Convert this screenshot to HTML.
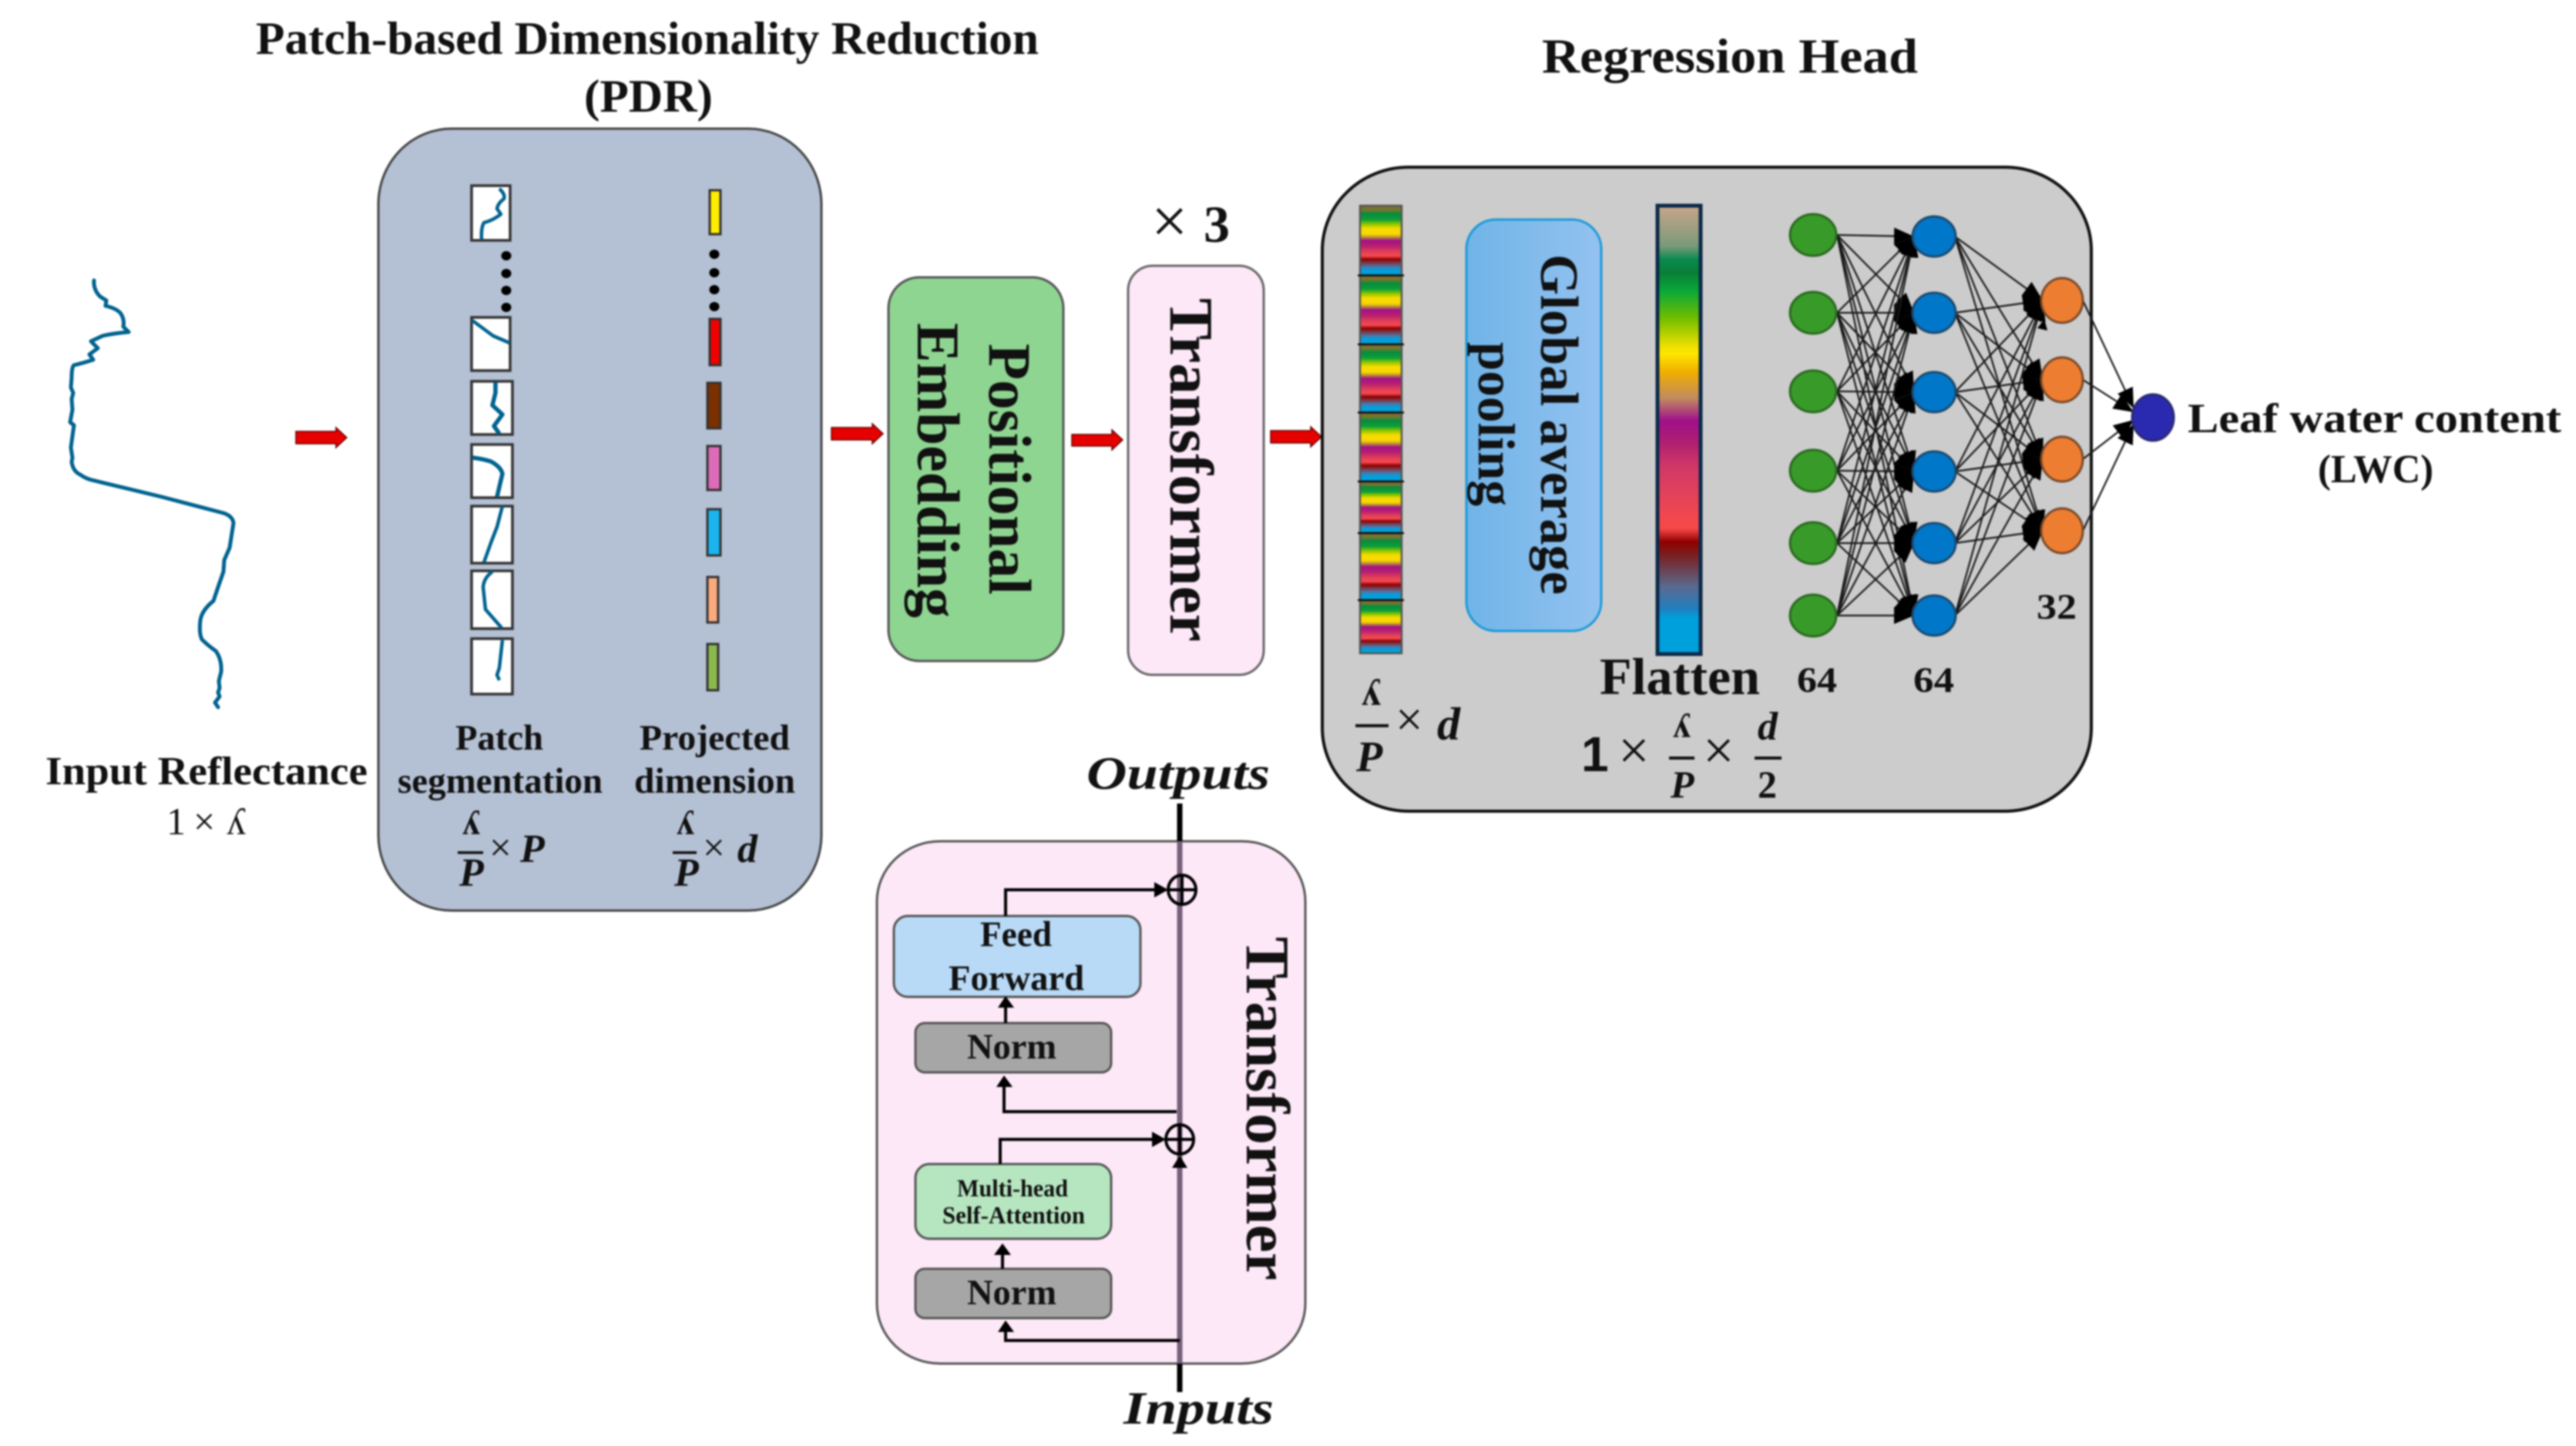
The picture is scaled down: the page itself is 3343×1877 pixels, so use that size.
<!DOCTYPE html>
<html lang="en"><head><meta charset="utf-8"><title>PDR Transformer diagram</title>
<style>
html,body{margin:0;padding:0;background:#fff}
svg{display:block;filter:blur(1.1px)}
text{font-family:"Liberation Serif","DejaVu Serif",serif;font-weight:bold;fill:#111}
.i{font-style:italic}
.r{font-weight:normal}
</style></head><body>
<svg xmlns="http://www.w3.org/2000/svg" width="3343" height="1877" viewBox="0 0 3343 1877">
<defs>
<linearGradient id="rb" x1="0" y1="0" x2="0" y2="1">
<stop offset="0" stop-color="#c9a58a"/><stop offset=".09" stop-color="#7a9a7a"/><stop offset=".12" stop-color="#0a8a4f"/><stop offset=".15" stop-color="#0a7f36"/><stop offset=".19" stop-color="#0aa83a"/><stop offset=".25" stop-color="#6fbd00"/><stop offset=".315" stop-color="#f0e000"/><stop offset=".33" stop-color="#ffe600"/><stop offset=".37" stop-color="#f0b000"/><stop offset=".43" stop-color="#c08a60"/><stop offset=".48" stop-color="#a0108a"/><stop offset=".53" stop-color="#b02070"/><stop offset=".58" stop-color="#d03868"/><stop offset=".69" stop-color="#f04850"/><stop offset=".72" stop-color="#f84848"/><stop offset=".75" stop-color="#8f0000"/><stop offset=".78" stop-color="#7a2020"/><stop offset=".85" stop-color="#5a6a90"/><stop offset=".9" stop-color="#2080c0"/><stop offset=".92" stop-color="#00a0dc"/><stop offset="1" stop-color="#00a0dc"/>
</linearGradient>
<linearGradient id="st" x1="0" y1="0" x2="0" y2="1">
<stop offset="0" stop-color="#8a6a30"/><stop offset=".07" stop-color="#6a7a30"/><stop offset=".11" stop-color="#0a8a3c"/><stop offset=".2" stop-color="#0aa03a"/><stop offset=".26" stop-color="#8ac400"/><stop offset=".33" stop-color="#f8dc00"/><stop offset=".41" stop-color="#f8d800"/><stop offset=".46" stop-color="#b08040"/><stop offset=".5" stop-color="#a5108a"/><stop offset=".58" stop-color="#b82070"/><stop offset=".66" stop-color="#e04058"/><stop offset=".72" stop-color="#f84850"/><stop offset=".77" stop-color="#8a0000"/><stop offset=".82" stop-color="#7a3a4a"/><stop offset=".88" stop-color="#4a7ab0"/><stop offset=".92" stop-color="#00a0dc"/><stop offset="1" stop-color="#00a0dc"/>
</linearGradient>
<linearGradient id="gp" x1="0" y1="0" x2="1" y2="0"><stop offset="0" stop-color="#70b4e8"/><stop offset="1" stop-color="#93c2f0"/></linearGradient>
<marker id="nn" markerUnits="userSpaceOnUse" markerWidth="28" markerHeight="24" refX="26" refY="11" orient="auto"><path d="M0,0 L26,11 L0,22 z" fill="#000"/></marker>
</defs>

<!-- Titles -->
<text x="332" y="70" font-size="60" textLength="1016" lengthAdjust="spacingAndGlyphs">Patch-based Dimensionality Reduction</text>
<text x="758" y="145" font-size="60" textLength="167" lengthAdjust="spacingAndGlyphs">(PDR)</text>
<text x="2001" y="94" font-size="64" textLength="488" lengthAdjust="spacingAndGlyphs">Regression Head</text>

<!-- Input spectrum -->
<path d="M122,364 Q121,376 130,385 L138,390 L137,397 Q150,400 156,406 Q162,414 160,424 L167,431 Q145,433 133,436 L118,443 L127,452 L116,460 L121,467 Q105,472 96,474 Q93,476 93,490 L92,503 L95,510 L93,518 L94,532 L91,548 L96,552 L94,566 L92,581 L94,594 L93,600 Q95,612 104,616 Q112,622 123,624 L210,645 L290,666 Q302,670 303,679 L298,711 L291,727 L290,742 L282,765 L277,780 Q262,792 260,805 Q258,822 262,830 Q270,838 280,845 Q288,856 287,872 L284,884 L285,893 L283,899 L285,904 L279,912 L283,918" fill="none" stroke="#00628f" stroke-width="5" stroke-linejoin="round" stroke-linecap="round"/>
<text x="59" y="1018" font-size="52" textLength="418" lengthAdjust="spacingAndGlyphs">Input Reflectance</text>
<text x="216" y="1083" font-size="50" class="r" fill="#333">1</text>
<text x="251" y="1083" font-size="50" class="r" fill="#333">×</text>
<text x="294" y="1083" font-size="50" class="r" fill="#333">ʎ</text>

<!-- Red arrows -->
<g fill="#e60000" stroke="#6a0000" stroke-width="1.5">
<polygon points="384,560 436,560 436,555 450,568 436,581 436,576 384,576"/>
<polygon points="1079,555 1132,555 1132,550 1146,563 1132,576 1132,571 1079,571"/>
<polygon points="1391,564 1443,564 1443,558 1457,571 1443,584 1443,579 1391,579"/>
<polygon points="1649,559 1701,559 1701,554 1715,567 1701,580 1701,575 1649,575"/>
<polygon points="1824,562 1872,562 1872,557 1886,570 1872,583 1872,578 1824,578"/>
<polygon points="2081,557 2131,557 2131,552 2145,565 2131,578 2131,573 2081,573"/>
<polygon points="2235,557 2284,557 2284,552 2298,565 2284,578 2284,573 2235,573"/>
</g>

<!-- PDR box -->
<rect x="491" y="167" width="575" height="1015" rx="95" ry="98" fill="#b4c0d3" stroke="#444" stroke-width="3"/>
<g fill="#fff" stroke="#333" stroke-width="3.5">
<rect x="612" y="241" width="50" height="71"/>
<rect x="612" y="412" width="50" height="69"/>
<rect x="612" y="495" width="53" height="69"/>
<rect x="612" y="577" width="53" height="69"/>
<rect x="612" y="657" width="53" height="74"/>
<rect x="612" y="741" width="53" height="75"/>
<rect x="612" y="829" width="53" height="72"/>
</g>
<g fill="none" stroke="#00628f" stroke-width="4.5" stroke-linejoin="round">
<path d="M648,245 Q656,252 654,258 Q646,264 645,271 L650,278 Q640,286 628,289 Q624,296 625,311"/>
<path d="M613,416 L640,436 L661,445"/>
<path d="M643,496 L643,510 L639,526 L652,538 L641,553 L648,563" stroke-width="5.500"/>
<path d="M613,594 Q628,596 637,599 Q650,606 652,615 L645,645" stroke-width="5.500"/>
<path d="M652,657 L645,684 L638,702 L628,730"/>
<path d="M639,742 Q628,750 627,762 L630,791 L651,815"/>
<path d="M652,831 L650,849 L648,867 L645,876 L648,883"/>
</g>
<g fill="#000">
<ellipse cx="657" cy="332" rx="6.5" ry="6"/><ellipse cx="657" cy="355" rx="6.5" ry="6"/><ellipse cx="657" cy="377" rx="6.5" ry="6"/><ellipse cx="657" cy="399" rx="6.5" ry="6"/>
<ellipse cx="927" cy="330" rx="6.5" ry="6"/><ellipse cx="927" cy="354" rx="6.5" ry="6"/><ellipse cx="927" cy="376" rx="6.5" ry="6"/><ellipse cx="927" cy="398" rx="6.5" ry="6"/>
</g>
<g stroke="#333" stroke-width="3">
<rect x="921" y="247" width="14" height="57" fill="#ffed00"/>
<rect x="921" y="414" width="14" height="60" fill="#f00000"/>
<rect x="918" y="497" width="17" height="59" fill="#7b3000"/>
<rect x="918" y="579" width="17" height="57" fill="#dc6cb8"/>
<rect x="918" y="661" width="17" height="60" fill="#1ab5ef"/>
<rect x="918" y="749" width="14" height="59" fill="#fba97e"/>
<rect x="918" y="836" width="14" height="60" fill="#8ab94c"/>
</g>
<text x="591" y="973" font-size="47" textLength="114" lengthAdjust="spacingAndGlyphs">Patch</text>
<text x="516" y="1029" font-size="47" textLength="266" lengthAdjust="spacingAndGlyphs">segmentation</text>
<text x="830" y="973" font-size="47" textLength="195" lengthAdjust="spacingAndGlyphs">Projected</text>
<text x="823" y="1029" font-size="47" textLength="209" lengthAdjust="spacingAndGlyphs">dimension</text>
<text x="600" y="1083" font-size="46">ʎ</text>
<rect x="594" y="1105" width="33" height="3.5" fill="#111"/>
<text x="596" y="1150" font-size="52" class="i">P</text>
<text x="635" y="1117" font-size="51" class="r">×</text>
<text x="675" y="1119" font-size="52" class="i">P</text>
<text x="878" y="1083" font-size="46">ʎ</text>
<rect x="873" y="1105" width="31" height="3.5" fill="#111"/>
<text x="875" y="1150" font-size="52" class="i">P</text>
<text x="912" y="1117" font-size="51" class="r">×</text>
<text x="957" y="1119" font-size="52" class="i">d</text>

<!-- Positional Embedding -->
<rect x="1153" y="360" width="227" height="498" rx="40" ry="40" fill="#8fd592" stroke="#555" stroke-width="3"/>
<text transform="translate(1284,446) rotate(90)" font-size="78" textLength="326" lengthAdjust="spacingAndGlyphs">Positional</text>
<text transform="translate(1191,419) rotate(90)" font-size="78" textLength="383" lengthAdjust="spacingAndGlyphs">Embedding</text>

<!-- Transformer small -->
<rect x="1464" y="345" width="176" height="531" rx="32" ry="32" fill="#fde8f8" stroke="#666" stroke-width="3"/>
<text transform="translate(1519,387) rotate(90)" font-size="80" textLength="446" lengthAdjust="spacingAndGlyphs">Transformer</text>
<text x="1494" y="315" font-size="84" class="r">×</text>
<text x="1562" y="314" font-size="68">3</text>

<!-- Regression head box -->
<rect x="1716" y="217" width="998" height="836" rx="112" ry="108" fill="#cccccc" stroke="#111" stroke-width="4"/>
<!-- stripes -->
<g fill="url(#st)" stroke="#555" stroke-width="2.500">
<rect x="1765" y="267" width="54" height="90.500"/>
<rect x="1765" y="357.500" width="54" height="89.500"/>
<rect x="1765" y="447" width="54" height="88.500"/>
<rect x="1765" y="535.500" width="54" height="89.500"/>
<rect x="1765" y="625" width="54" height="67"/>
<rect x="1765" y="692" width="54" height="87"/>
<rect x="1765" y="779" width="54" height="69"/>
</g>
<path d="M1762,357.500 H1822 M1762,447 H1822 M1762,535.500 H1822 M1762,625 H1822 M1762,692 H1822 M1762,779 H1822" stroke="#111" stroke-width="2.500" fill="none"/>
<rect x="1903" y="285" width="175" height="534" rx="38" ry="38" fill="url(#gp)" stroke="#1a9ad8" stroke-width="3"/>
<text transform="translate(2000,330) rotate(90)" font-size="70" textLength="442" lengthAdjust="spacingAndGlyphs">Global average</text>
<text transform="translate(1919,444) rotate(90)" font-size="68" textLength="213" lengthAdjust="spacingAndGlyphs">pooling</text>
<rect x="2151" y="267" width="56" height="582" fill="url(#rb)" stroke="#0b2a4a" stroke-width="5"/>
<text x="2076" y="901" font-size="68" textLength="208" lengthAdjust="spacingAndGlyphs">Flatten</text>

<!-- dims -->
<text x="1767" y="915" font-size="50">ʎ</text>
<rect x="1759" y="940" width="43" height="4" fill="#111"/>
<text x="1760" y="1001" font-size="56" class="i">P</text>
<text x="1811" y="955" font-size="63" class="r">×</text>
<text x="1865" y="960" font-size="60" class="i">d</text>
<text x="2052" y="1001" font-size="64" style="font-family:'Liberation Sans',sans-serif">1</text>
<text x="2100" y="998" font-size="72" class="r">×</text>
<text x="2171" y="957" font-size="46">ʎ</text>
<rect x="2166" y="982" width="33" height="4" fill="#111"/>
<text x="2168" y="1035" font-size="50" class="i">P</text>
<text x="2210" y="998" font-size="72" class="r">×</text>
<text x="2281" y="960" font-size="52" class="i">d</text>
<rect x="2277" y="982" width="35" height="4" fill="#111"/>
<text x="2281" y="1035" font-size="50">2</text>

<!-- Neural net connections -->
<g stroke="#1a1a1a" stroke-width="2.2" marker-end="url(#nn)">
<line x1="2384" y1="305" x2="2484" y2="307"/><line x1="2384" y1="305" x2="2484" y2="406"/><line x1="2384" y1="305" x2="2484" y2="509"/><line x1="2384" y1="305" x2="2484" y2="612"/><line x1="2384" y1="305" x2="2484" y2="705"/><line x1="2384" y1="305" x2="2484" y2="799"/>
<line x1="2384" y1="406" x2="2484" y2="307"/><line x1="2384" y1="406" x2="2484" y2="406"/><line x1="2384" y1="406" x2="2484" y2="509"/><line x1="2384" y1="406" x2="2484" y2="612"/><line x1="2384" y1="406" x2="2484" y2="705"/><line x1="2384" y1="406" x2="2484" y2="799"/>
<line x1="2384" y1="508" x2="2484" y2="307"/><line x1="2384" y1="508" x2="2484" y2="406"/><line x1="2384" y1="508" x2="2484" y2="509"/><line x1="2384" y1="508" x2="2484" y2="612"/><line x1="2384" y1="508" x2="2484" y2="705"/><line x1="2384" y1="508" x2="2484" y2="799"/>
<line x1="2384" y1="611" x2="2484" y2="307"/><line x1="2384" y1="611" x2="2484" y2="406"/><line x1="2384" y1="611" x2="2484" y2="509"/><line x1="2384" y1="611" x2="2484" y2="612"/><line x1="2384" y1="611" x2="2484" y2="705"/><line x1="2384" y1="611" x2="2484" y2="799"/>
<line x1="2384" y1="705" x2="2484" y2="307"/><line x1="2384" y1="705" x2="2484" y2="406"/><line x1="2384" y1="705" x2="2484" y2="509"/><line x1="2384" y1="705" x2="2484" y2="612"/><line x1="2384" y1="705" x2="2484" y2="705"/><line x1="2384" y1="705" x2="2484" y2="799"/>
<line x1="2384" y1="799" x2="2484" y2="307"/><line x1="2384" y1="799" x2="2484" y2="406"/><line x1="2384" y1="799" x2="2484" y2="509"/><line x1="2384" y1="799" x2="2484" y2="612"/><line x1="2384" y1="799" x2="2484" y2="705"/><line x1="2384" y1="799" x2="2484" y2="799"/>
<line x1="2537" y1="307" x2="2651" y2="390"/><line x1="2537" y1="307" x2="2651" y2="493"/><line x1="2537" y1="307" x2="2651" y2="596"/><line x1="2537" y1="307" x2="2651" y2="689"/>
<line x1="2537" y1="406" x2="2651" y2="390"/><line x1="2537" y1="406" x2="2651" y2="493"/><line x1="2537" y1="406" x2="2651" y2="596"/><line x1="2537" y1="406" x2="2651" y2="689"/>
<line x1="2537" y1="509" x2="2651" y2="390"/><line x1="2537" y1="509" x2="2651" y2="493"/><line x1="2537" y1="509" x2="2651" y2="596"/><line x1="2537" y1="509" x2="2651" y2="689"/>
<line x1="2537" y1="612" x2="2651" y2="390"/><line x1="2537" y1="612" x2="2651" y2="493"/><line x1="2537" y1="612" x2="2651" y2="596"/><line x1="2537" y1="612" x2="2651" y2="689"/>
<line x1="2537" y1="705" x2="2651" y2="390"/><line x1="2537" y1="705" x2="2651" y2="493"/><line x1="2537" y1="705" x2="2651" y2="596"/><line x1="2537" y1="705" x2="2651" y2="689"/>
<line x1="2537" y1="799" x2="2651" y2="390"/><line x1="2537" y1="799" x2="2651" y2="493"/><line x1="2537" y1="799" x2="2651" y2="596"/><line x1="2537" y1="799" x2="2651" y2="689"/>
<line x1="2703" y1="390" x2="2769" y2="530"/><line x1="2703" y1="493" x2="2769" y2="535"/><line x1="2703" y1="596" x2="2769" y2="545"/><line x1="2703" y1="689" x2="2769" y2="550"/>
</g>
<polygon points="2653,414 2657,429 2644,426" fill="#000"/>
<!-- Nodes -->
<g fill="#389a28" stroke="#2a6a20" stroke-width="3">
<ellipse cx="2353" cy="305" rx="30" ry="27"/><ellipse cx="2353" cy="406" rx="30" ry="27"/><ellipse cx="2353" cy="508" rx="30" ry="27"/><ellipse cx="2353" cy="611" rx="30" ry="27"/><ellipse cx="2353" cy="705" rx="30" ry="27"/><ellipse cx="2353" cy="799" rx="30" ry="27"/>
</g>
<g fill="#0077c8" stroke="#1b4a70" stroke-width="3">
<ellipse cx="2510" cy="307" rx="28" ry="26"/><ellipse cx="2510" cy="406" rx="28" ry="26"/><ellipse cx="2510" cy="509" rx="28" ry="26"/><ellipse cx="2510" cy="612" rx="28" ry="26"/><ellipse cx="2510" cy="705" rx="28" ry="26"/><ellipse cx="2510" cy="799" rx="28" ry="26"/>
</g>
<g fill="#ed7d31" stroke="#7a4a2a" stroke-width="3">
<ellipse cx="2676" cy="390" rx="27" ry="29"/><ellipse cx="2676" cy="493" rx="27" ry="29"/><ellipse cx="2676" cy="596" rx="27" ry="29"/><ellipse cx="2676" cy="689" rx="27" ry="29"/>
</g>
<ellipse cx="2794" cy="542" rx="27" ry="30" fill="#2a2ab0" stroke="#2a2a70" stroke-width="3"/>
<text x="2332" y="898" font-size="47" textLength="52" lengthAdjust="spacingAndGlyphs">64</text>
<text x="2483" y="898" font-size="47" textLength="53" lengthAdjust="spacingAndGlyphs">64</text>
<text x="2643" y="803" font-size="47" textLength="52" lengthAdjust="spacingAndGlyphs">32</text>
<text x="2839" y="561" font-size="54" textLength="485" lengthAdjust="spacingAndGlyphs">Leaf water content</text>
<text x="3008" y="626" font-size="52" textLength="150" lengthAdjust="spacingAndGlyphs">(LWC)</text>

<!-- Transformer detail -->
<text x="1410" y="1024" font-size="60" class="i" textLength="238" lengthAdjust="spacingAndGlyphs">Outputs</text>
<rect x="1138" y="1092" width="556" height="678" rx="82" ry="78" fill="#fde8f8" stroke="#555" stroke-width="3"/>
<rect x="1527.500" y="1043" width="7" height="49" fill="#000"/>
<rect x="1527.500" y="1092" width="7" height="678" fill="#77607a"/>
<rect x="1527.500" y="1770" width="7" height="37" fill="#000"/>
<text x="1458" y="1848" font-size="60" class="i" textLength="195" lengthAdjust="spacingAndGlyphs">Inputs</text>
<rect x="1160" y="1189" width="320" height="105" rx="18" ry="18" fill="#b8daf6" stroke="#555" stroke-width="3"/>
<rect x="1188" y="1328" width="254" height="64" rx="12" ry="12" fill="#a6a6a6" stroke="#555" stroke-width="3"/>
<rect x="1188" y="1511" width="254" height="97" rx="18" ry="18" fill="#b6e6c0" stroke="#555" stroke-width="3"/>
<rect x="1188" y="1647" width="254" height="64" rx="12" ry="12" fill="#a6a6a6" stroke="#555" stroke-width="3"/>
<text x="1272" y="1228" font-size="47" textLength="93" lengthAdjust="spacingAndGlyphs">Feed</text>
<text x="1231" y="1285" font-size="47" textLength="176" lengthAdjust="spacingAndGlyphs">Forward</text>
<text x="1255" y="1374" font-size="47" textLength="116" lengthAdjust="spacingAndGlyphs">Norm</text>
<text x="1242" y="1553" font-size="32" textLength="144" lengthAdjust="spacingAndGlyphs">Multi-head</text>
<text x="1223" y="1588" font-size="32" textLength="185" lengthAdjust="spacingAndGlyphs">Self-Attention</text>
<text x="1255" y="1693" font-size="47" textLength="116" lengthAdjust="spacingAndGlyphs">Norm</text>
<g fill="none" stroke="#000" stroke-width="4">
<path d="M1305,1189 V1155 H1505"/>
<path d="M1305,1328 V1300"/>
<path d="M1527,1443 H1303 V1405"/>
<path d="M1298,1511 V1479 H1505"/>
<path d="M1301,1647 V1625"/>
<path d="M1531,1740 H1305 V1722"/>
<ellipse cx="1534" cy="1155" rx="18" ry="19"/><path d="M1516,1155 H1552 M1534,1136 V1174"/>
<ellipse cx="1531" cy="1479" rx="18" ry="19"/><path d="M1513,1479 H1549 M1531,1460 V1498"/>
</g>
<g fill="#000">
<polygon points="1498,1145 1516,1155 1498,1165"/>
<polygon points="1495,1469 1513,1479 1495,1489"/>
<polygon points="1295,1308 1305,1293 1316,1308"/>
<polygon points="1293,1411 1303,1396 1314,1411"/>
<polygon points="1290,1629 1301,1614 1312,1629"/>
<polygon points="1295,1729 1305,1714 1316,1729"/>
<polygon points="1521,1516 1531,1500 1541,1516"/>
</g>
<text transform="translate(1618,1216) rotate(90)" font-size="80" textLength="446" lengthAdjust="spacingAndGlyphs">Transformer</text>
</svg>
</body></html>
